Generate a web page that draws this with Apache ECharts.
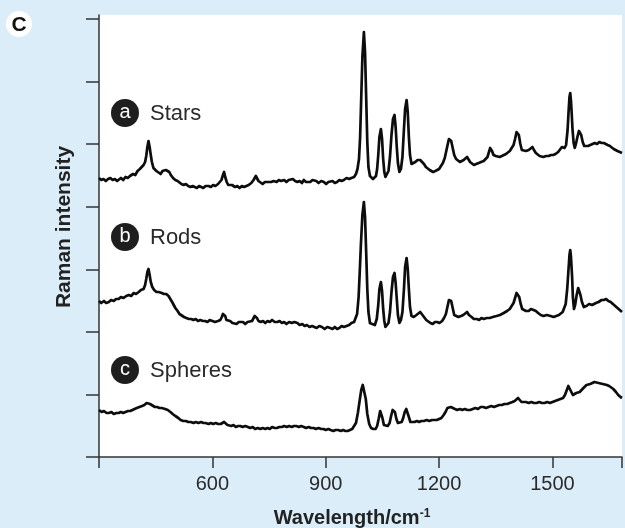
<!DOCTYPE html>
<html>
<head>
<meta charset="utf-8">
<script src="https://cdn.jsdelivr.net/npm/echarts@6/dist/echarts.min.js"></script>
<style>
  html, body { margin: 0; padding: 0; background: #dbedf8; }
  #chart { width: 625px; height: 528px; }
</style>
</head>
<body>
<div id="chart"></div>
<script>
// wavenumber (cm-1), intensity (arb. units, traces offset)
const stars = [
  [300, 279], [306, 277], [312, 278], [318, 276], [324, 278], [330, 279], [336, 277], [342, 278],
  [348, 276], [352, 278], [358, 279], [364, 277], [370, 280], [376, 279], [382, 281], [390, 283],
  [396, 282], [402, 286], [408, 288], [413, 287], [418, 292], [422, 295], [425, 301], [428, 310],
  [431, 316], [434, 310], [437, 302], [440, 295], [444, 289], [448, 288], [452, 286], [457, 285],
  [463, 283], [468, 286], [472, 285], [477, 287], [481, 288], [486, 285], [490, 282], [496, 279],
  [502, 277], [508, 276], [513, 274], [518, 273], [524, 272], [530, 273], [536, 271], [542, 270],
  [548, 271], [553, 270], [559, 269], [565, 271], [570, 270], [576, 269], [582, 271], [590, 271],
  [596, 270], [602, 272], [608, 271], [615, 273], [620, 274], [624, 277], [628, 282], [631, 285],
  [634, 280], [638, 275], [642, 272], [646, 271], [652, 272], [660, 270], [666, 271], [672, 269],
  [678, 271], [684, 270], [690, 271], [696, 272], [703, 274], [709, 277], [712, 279], [715, 281],
  [718, 279], [722, 276], [727, 274], [733, 273], [739, 275], [745, 275], [750, 277], [756, 275],
  [762, 276], [770, 275], [776, 277], [782, 276], [790, 277], [796, 275], [802, 277], [807, 276],
  [813, 278], [819, 276], [825, 275], [831, 276], [837, 274], [842, 277], [848, 275], [853, 276],
  [859, 275], [865, 277], [870, 275], [875, 276], [881, 274], [888, 276], [895, 275], [901, 273],
  [907, 275], [912, 274], [918, 276], [924, 274], [930, 275], [936, 277], [942, 276], [948, 277],
  [955, 279], [962, 278], [968, 279], [975, 280], [980, 283], [984, 288], [988, 298], [991, 320],
  [994, 360], [997, 400], [1001, 425], [1004, 405], [1007, 360], [1010, 315], [1013, 290], [1017, 281],
  [1021, 279], [1025, 278], [1029, 279], [1033, 281], [1036, 288], [1039, 302], [1042, 320], [1046, 328],
  [1049, 318], [1052, 298], [1055, 285], [1058, 280], [1062, 281], [1066, 286], [1070, 300], [1074, 322],
  [1078, 338], [1082, 342], [1085, 330], [1088, 310], [1091, 294], [1095, 285], [1099, 288], [1103, 300],
  [1107, 328], [1110, 348], [1114, 357], [1117, 345], [1120, 320], [1123, 302], [1127, 293], [1132, 294],
  [1137, 295], [1143, 297], [1150, 297], [1155, 296], [1160, 293], [1165, 290], [1169, 289], [1175, 287],
  [1180, 286], [1184, 285], [1190, 286], [1195, 287], [1200, 288], [1205, 290], [1210, 294], [1215, 299],
  [1219, 306], [1223, 313], [1226, 318], [1229, 319], [1232, 316], [1236, 309], [1240, 302], [1245, 298],
  [1250, 296], [1255, 295], [1260, 296], [1265, 297], [1270, 299], [1274, 300], [1278, 298], [1282, 295],
  [1287, 293], [1292, 292], [1298, 293], [1305, 294], [1311, 295], [1318, 296], [1323, 298], [1328, 300],
  [1332, 305], [1335, 309], [1337, 310], [1340, 306], [1344, 302], [1350, 301], [1355, 299], [1360, 300],
  [1366, 301], [1371, 302], [1377, 303], [1382, 305], [1387, 306], [1392, 308], [1397, 312], [1401, 318],
  [1405, 325], [1408, 327], [1411, 322], [1415, 313], [1419, 307], [1423, 305], [1430, 306], [1437, 307],
  [1442, 309], [1447, 310], [1451, 307], [1456, 304], [1461, 302], [1466, 301], [1471, 300], [1476, 300],
  [1483, 301], [1490, 301], [1496, 302], [1502, 302], [1508, 303], [1515, 305], [1520, 307], [1525, 310],
  [1528, 311], [1532, 309], [1536, 312], [1540, 327], [1543, 348], [1545, 360], [1547, 364], [1549, 356],
  [1551, 343], [1553, 328], [1556, 314], [1559, 309], [1562, 313], [1566, 320], [1570, 326], [1573, 327],
  [1576, 322], [1580, 315], [1584, 311], [1589, 309], [1594, 311], [1600, 312], [1606, 313], [1612, 314],
  [1618, 313], [1624, 315], [1630, 314], [1636, 314], [1641, 313], [1646, 312], [1652, 311], [1657, 310],
  [1662, 308], [1667, 307], [1672, 306], [1678, 305], [1684, 304]
];

const rods = [
  [300, 156], [306, 154], [313, 156], [319, 154], [326, 155], [332, 157], [339, 156], [345, 158],
  [352, 158], [358, 160], [365, 159], [372, 161], [379, 162], [385, 161], [392, 164], [398, 163],
  [405, 165], [411, 167], [418, 168], [422, 172], [425, 178], [428, 185], [431, 188], [434, 182],
  [437, 175], [441, 170], [446, 167], [452, 165], [458, 165], [466, 164], [472, 163], [478, 163],
  [484, 161], [489, 159], [495, 154], [502, 149], [508, 146], [513, 143], [518, 142], [525, 140],
  [531, 139], [538, 138], [544, 138], [550, 137], [556, 138], [562, 136], [568, 137], [575, 136],
  [581, 136], [587, 135], [593, 137], [600, 136], [607, 135], [615, 136], [621, 137], [625, 140],
  [628, 143], [631, 145], [634, 141], [637, 137], [641, 135], [647, 136], [653, 134], [658, 135],
  [664, 133], [670, 135], [675, 134], [681, 135], [687, 133], [693, 135], [698, 134], [705, 136],
  [709, 138], [712, 141], [715, 142], [718, 139], [722, 136], [728, 135], [734, 136], [740, 134],
  [746, 136], [752, 135], [758, 137], [765, 135], [772, 135], [778, 136], [784, 134], [790, 135],
  [796, 133], [803, 135], [810, 134], [817, 135], [825, 134], [831, 132], [838, 133], [844, 131],
  [850, 132], [857, 130], [864, 131], [870, 130], [876, 129], [883, 131], [890, 130], [897, 128],
  [904, 130], [912, 129], [918, 128], [924, 130], [930, 128], [936, 129], [942, 131], [948, 130],
  [955, 131], [962, 132], [968, 134], [975, 135], [979, 137], [983, 143], [987, 160], [990, 185],
  [993, 212], [997, 242], [1001, 255], [1004, 240], [1007, 205], [1010, 168], [1013, 145], [1017, 134],
  [1023, 133], [1030, 132], [1035, 138], [1039, 152], [1042, 168], [1046, 175], [1049, 166], [1052, 148],
  [1055, 136], [1058, 130], [1062, 131], [1066, 134], [1070, 145], [1074, 165], [1078, 180], [1082, 184],
  [1085, 174], [1088, 158], [1091, 142], [1095, 134], [1099, 137], [1103, 145], [1107, 168], [1110, 190],
  [1114, 199], [1117, 188], [1120, 168], [1123, 150], [1127, 141], [1133, 140], [1140, 142], [1145, 144],
  [1150, 145], [1155, 143], [1160, 140], [1166, 137], [1171, 135], [1177, 134], [1183, 133], [1189, 135],
  [1195, 135], [1201, 134], [1208, 136], [1213, 139], [1218, 143], [1222, 150], [1226, 157], [1229, 159],
  [1232, 156], [1236, 149], [1240, 142], [1245, 140], [1251, 140], [1258, 141], [1264, 142], [1269, 144],
  [1274, 145], [1279, 142], [1286, 140], [1292, 138], [1300, 138], [1306, 137], [1312, 139], [1318, 138],
  [1326, 139], [1334, 139], [1342, 140], [1352, 141], [1361, 142], [1371, 144], [1380, 146], [1387, 148],
  [1392, 150], [1397, 154], [1401, 159], [1405, 164], [1408, 165], [1412, 160], [1416, 153], [1420, 148],
  [1423, 147], [1430, 146], [1437, 146], [1443, 148], [1450, 147], [1456, 146], [1462, 144], [1469, 142],
  [1476, 141], [1485, 142], [1495, 141], [1503, 140], [1510, 141], [1517, 142], [1522, 144], [1527, 145],
  [1531, 147], [1535, 153], [1539, 168], [1542, 185], [1545, 202], [1547, 207], [1549, 200], [1552, 180],
  [1554, 160], [1557, 148], [1560, 152], [1564, 162], [1568, 169], [1571, 168], [1574, 162], [1578, 155],
  [1583, 150], [1590, 151], [1597, 153], [1605, 152], [1615, 154], [1622, 155], [1630, 157], [1636, 157],
  [1642, 158], [1648, 156], [1654, 155], [1660, 153], [1666, 151], [1672, 149], [1678, 147], [1684, 145]
];

const spheres = [
  [300, 47], [307, 45], [313, 46], [320, 44], [326, 44], [333, 45], [339, 43], [346, 44],
  [352, 44], [358, 45], [364, 44], [370, 45], [377, 46], [383, 46], [387, 47], [394, 48],
  [400, 49], [407, 50], [414, 51], [420, 52], [426, 54], [431, 55], [435, 53], [440, 52],
  [448, 50], [454, 50], [460, 49], [466, 49], [475, 48], [482, 47], [489, 45], [495, 43],
  [502, 41], [510, 39], [516, 37], [523, 36], [530, 36], [536, 35], [543, 35], [550, 34],
  [556, 35], [563, 34], [570, 35], [576, 34], [582, 34], [590, 33], [596, 34], [602, 33],
  [609, 34], [615, 33], [622, 33], [627, 34], [631, 35], [635, 33], [640, 32], [645, 31],
  [650, 31], [656, 32], [662, 30], [668, 31], [674, 31], [680, 30], [687, 31], [694, 30],
  [700, 29], [707, 30], [713, 28], [720, 29], [727, 28], [733, 29], [740, 28], [746, 29],
  [752, 28], [758, 30], [765, 29], [771, 29], [777, 30], [784, 30], [790, 31], [797, 30],
  [803, 31], [810, 30], [816, 31], [822, 31], [829, 30], [835, 31], [842, 30], [848, 29],
  [855, 30], [861, 29], [868, 29], [874, 28], [881, 29], [888, 28], [894, 28], [900, 27],
  [907, 28], [913, 27], [920, 26], [926, 27], [933, 27], [940, 26], [946, 27], [952, 26],
  [958, 26], [964, 27], [970, 28], [975, 30], [980, 34], [985, 44], [990, 57], [994, 67],
  [998, 72], [1002, 70], [1006, 58], [1010, 43], [1015, 33], [1020, 29], [1026, 28], [1032, 28],
  [1036, 31], [1040, 38], [1044, 46], [1047, 46], [1050, 39], [1054, 32], [1058, 30], [1064, 31],
  [1069, 34], [1073, 41], [1077, 47], [1080, 49], [1083, 45], [1087, 38], [1091, 34], [1096, 33],
  [1101, 35], [1105, 39], [1109, 45], [1113, 48], [1116, 46], [1120, 40], [1124, 35], [1129, 34],
  [1135, 35], [1141, 36], [1147, 35], [1153, 36], [1160, 36], [1167, 37], [1174, 36], [1181, 37],
  [1188, 37], [1194, 37], [1200, 38], [1206, 39], [1212, 42], [1217, 45], [1222, 49], [1227, 51],
  [1231, 50], [1236, 48], [1242, 48], [1248, 47], [1255, 48], [1261, 47], [1268, 48], [1275, 47],
  [1282, 47], [1289, 48], [1296, 49], [1303, 48], [1310, 50], [1317, 50], [1324, 49], [1331, 50],
  [1338, 51], [1345, 50], [1352, 51], [1359, 52], [1366, 52], [1373, 53], [1380, 53], [1387, 54],
  [1394, 55], [1400, 56], [1405, 58], [1409, 59], [1413, 57], [1418, 55], [1423, 54], [1430, 55],
  [1437, 54], [1444, 55], [1451, 54], [1458, 54], [1465, 55], [1472, 54], [1479, 54], [1486, 55],
  [1493, 54], [1500, 55], [1507, 56], [1514, 57], [1521, 58], [1528, 59], [1533, 62], [1538, 67],
  [1542, 71], [1544, 72], [1547, 69], [1550, 65], [1554, 62], [1558, 63], [1563, 64], [1568, 65],
  [1572, 65], [1577, 67], [1582, 69], [1586, 70], [1590, 72], [1595, 72], [1600, 73], [1605, 74],
  [1611, 75], [1616, 75], [1622, 74], [1627, 74], [1633, 73], [1638, 72], [1644, 72], [1650, 71],
  [1655, 70], [1661, 68], [1668, 65], [1674, 62], [1680, 60], [1684, 59]
];

const xTickLabels = [600, 900, 1200, 1500];
const yTicks = [0, 62.6, 125.1, 187.7, 250.3, 312.9, 375.4, 438];
const traceNames = ['Stars', 'Rods', 'Spheres'];
const traceLetters = ['a', 'b', 'c'];
const traceLabelY = [113, 237, 370];

const chart = echarts.init(document.getElementById('chart'));

const lineSeries = [stars, rods, spheres].map((data, i) => ({
  name: traceNames[i],
  type: 'line',
  data: data,
  showSymbol: false,
  lineStyle: { color: '#0d0d0d', width: 2.7, join: 'round' },
  silent: true
}));

const labelGraphics = [];
traceNames.forEach((name, i) => {
  labelGraphics.push({
    type: 'circle',
    shape: { cx: 125, cy: traceLabelY[i], r: 14 },
    style: { fill: '#1e1e1e' }
  });
  labelGraphics.push({
    type: 'text',
    x: 125, y: traceLabelY[i] - 1,
    style: {
      text: traceLetters[i], fill: '#fff', font: '20px "Liberation Sans", Arial, sans-serif',
      align: 'center', verticalAlign: 'middle'
    }
  });
  labelGraphics.push({
    type: 'text',
    x: 150, y: traceLabelY[i] + 1,
    style: {
      text: name, fill: '#2a2a2a', font: '22px "Liberation Sans", Arial, sans-serif',
      align: 'left', verticalAlign: 'middle'
    }
  });
});

chart.setOption({
  backgroundColor: '#dbedf8',
  animation: false,
  grid: {
    left: 99, top: 15, right: 0, bottom: 71,
    show: true, backgroundColor: '#fff', borderWidth: 0
  },
  xAxis: {
    type: 'value',
    min: 300, max: 1684, interval: 300,
    axisLine: { lineStyle: { color: '#333', width: 1.5 } },
    axisTick: { length: 11, lineStyle: { color: '#333', width: 1.5 } },
    axisLabel: {
      margin: 17,
      color: '#2a2a2a',
      fontSize: 20,
      fontFamily: '"Liberation Sans", Arial, sans-serif',
      formatter: v => xTickLabels.includes(v) ? String(v) : ''
    },
    splitLine: { show: false }
  },
  yAxis: {
    type: 'value',
    min: 0, max: 442,
    axisLine: { show: true, lineStyle: { color: '#333', width: 1.5 } },
    axisTick: { show: true, length: 13, customValues: yTicks, lineStyle: { color: '#333', width: 1.5 } },
    axisLabel: { show: false },
    splitLine: { show: false }
  },
  series: lineSeries,
  graphic: [
    {
      type: 'circle',
      shape: { cx: 19, cy: 24, r: 13 },
      style: { fill: '#fff' }
    },
    {
      type: 'text',
      x: 19, y: 25,
      style: {
        text: 'C', fill: '#111', font: 'bold 21px "Liberation Sans", Arial, sans-serif',
        align: 'center', verticalAlign: 'middle'
      }
    },
    {
      type: 'text',
      x: 64, y: 227,
      rotation: Math.PI / 2,
      style: {
        text: 'Raman intensity', fill: '#222', font: 'bold 21px "Liberation Sans", Arial, sans-serif',
        align: 'center', verticalAlign: 'middle'
      }
    },
    {
      type: 'text',
      x: 352, y: 518,
      style: {
        text: '{a|Wavelength/cm}{b|-1}',
        align: 'center', verticalAlign: 'middle',
        rich: {
          a: { fill: '#222', font: 'bold 20px "Liberation Sans", Arial, sans-serif' },
          b: { fill: '#222', font: 'bold 12px "Liberation Sans", Arial, sans-serif', verticalAlign: 'top' }
        }
      }
    }
  ].concat(labelGraphics)
});
</script>
</body>
</html>
